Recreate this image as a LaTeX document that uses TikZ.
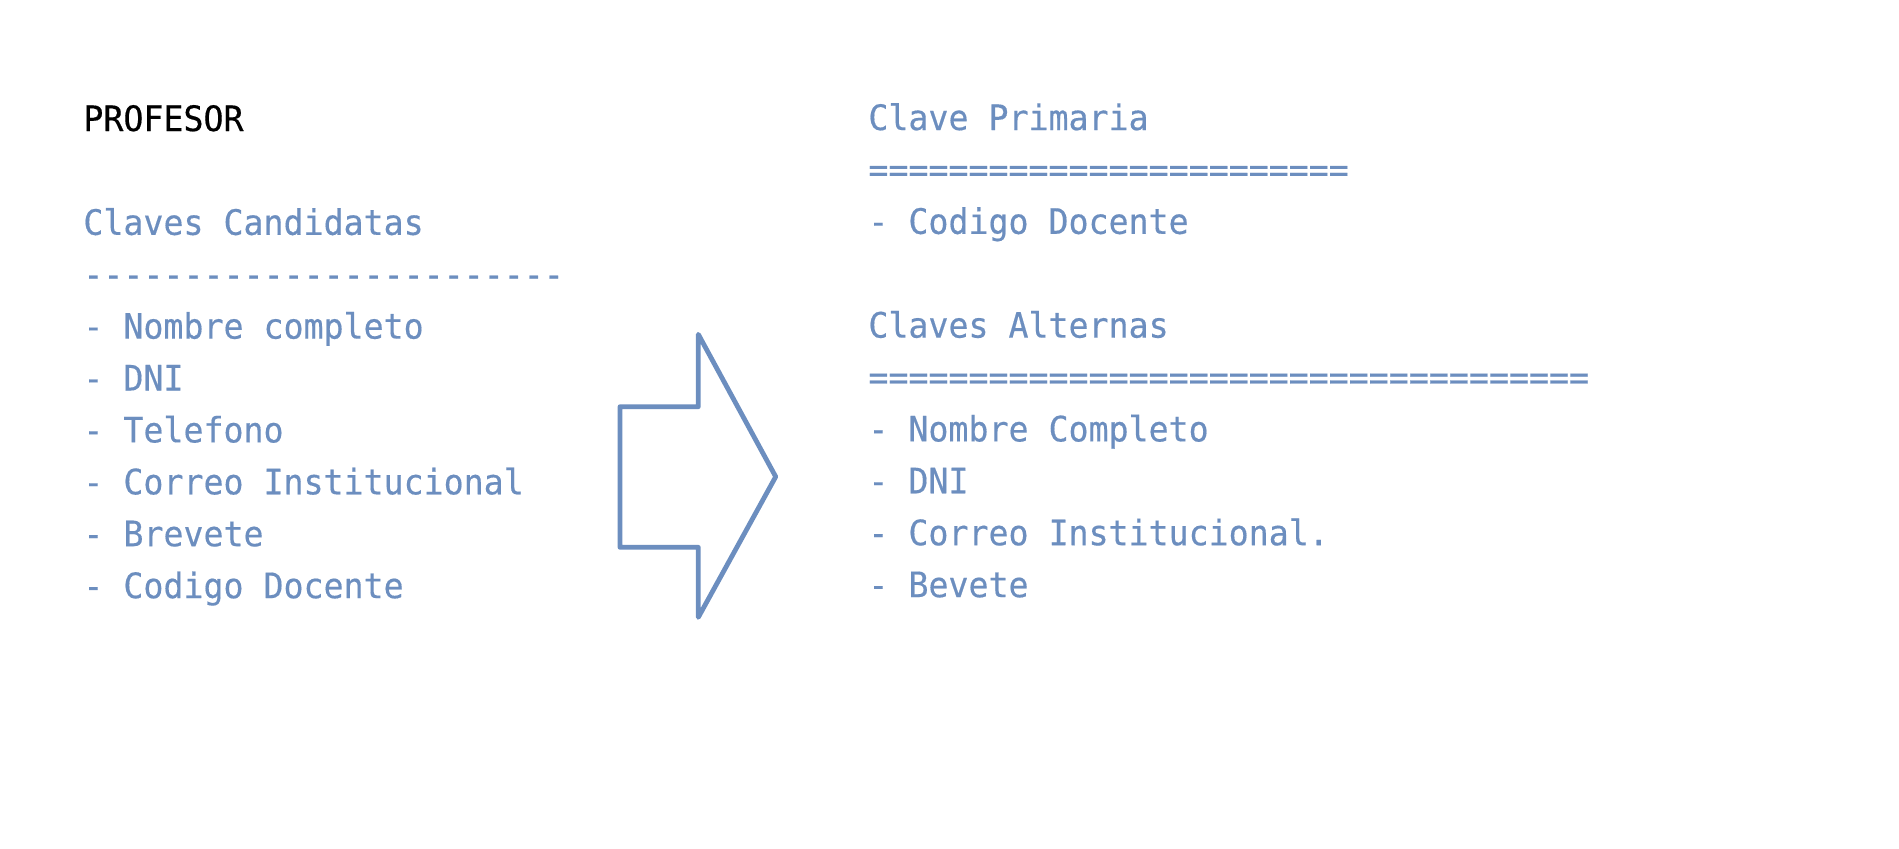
\documentclass[tikz,border=0pt]{standalone}
\usepackage{fontspec}
\setmonofont{DejaVu Sans Mono}[FakeStretch=0.95,FakeBold=0.4]
\definecolor{kblue}{HTML}{6C8EBF}
\begin{document}
\begin{tikzpicture}[x=0.5pt,y=-0.5pt,
  txt/.style={anchor=base west, inner sep=0pt, font=\ttfamily\fontsize{17.5pt}{26pt}\selectfont, text=kblue},
  ttl/.style={txt, text=black},
  bigarrow/.style={draw=kblue, line width=2.4pt, line join=round, fill=white}]
\useasboundingbox (0,0) rectangle (1899,848);
% left column
\node[ttl] (L0) at (83,131) {PROFESOR};
\foreach \t [count=\i from 2] in {Claves Candidatas,------------------------,- Nombre completo,- DNI,- Telefono,- Correo Institucional,- Brevete,- Codigo Docente}
  \node[txt] (L\i) at (83,{131+51.9*\i}) {\t};
% right column
\foreach \t [count=\i from 0] in {Clave Primaria,========================,- Codigo Docente}
  \node[txt] (R\i) at (868,{130+51.9*\i}) {\t};
\foreach \t [count=\i from 4] in {Claves Alternas,====================================,- Nombre Completo,- DNI,- Correo Institucional.,- Bevete}
  \node[txt] (R\i) at (868,{130+51.9*\i}) {\t};
% arrow shape
\draw[bigarrow] (620,406.7) -- (698.3,406.7) -- (698.3,334.3) -- (775.7,476.7)
  -- (698.3,617.3) -- (698.3,547.3) -- (620,547.3) -- cycle;
\end{tikzpicture}
\end{document}
